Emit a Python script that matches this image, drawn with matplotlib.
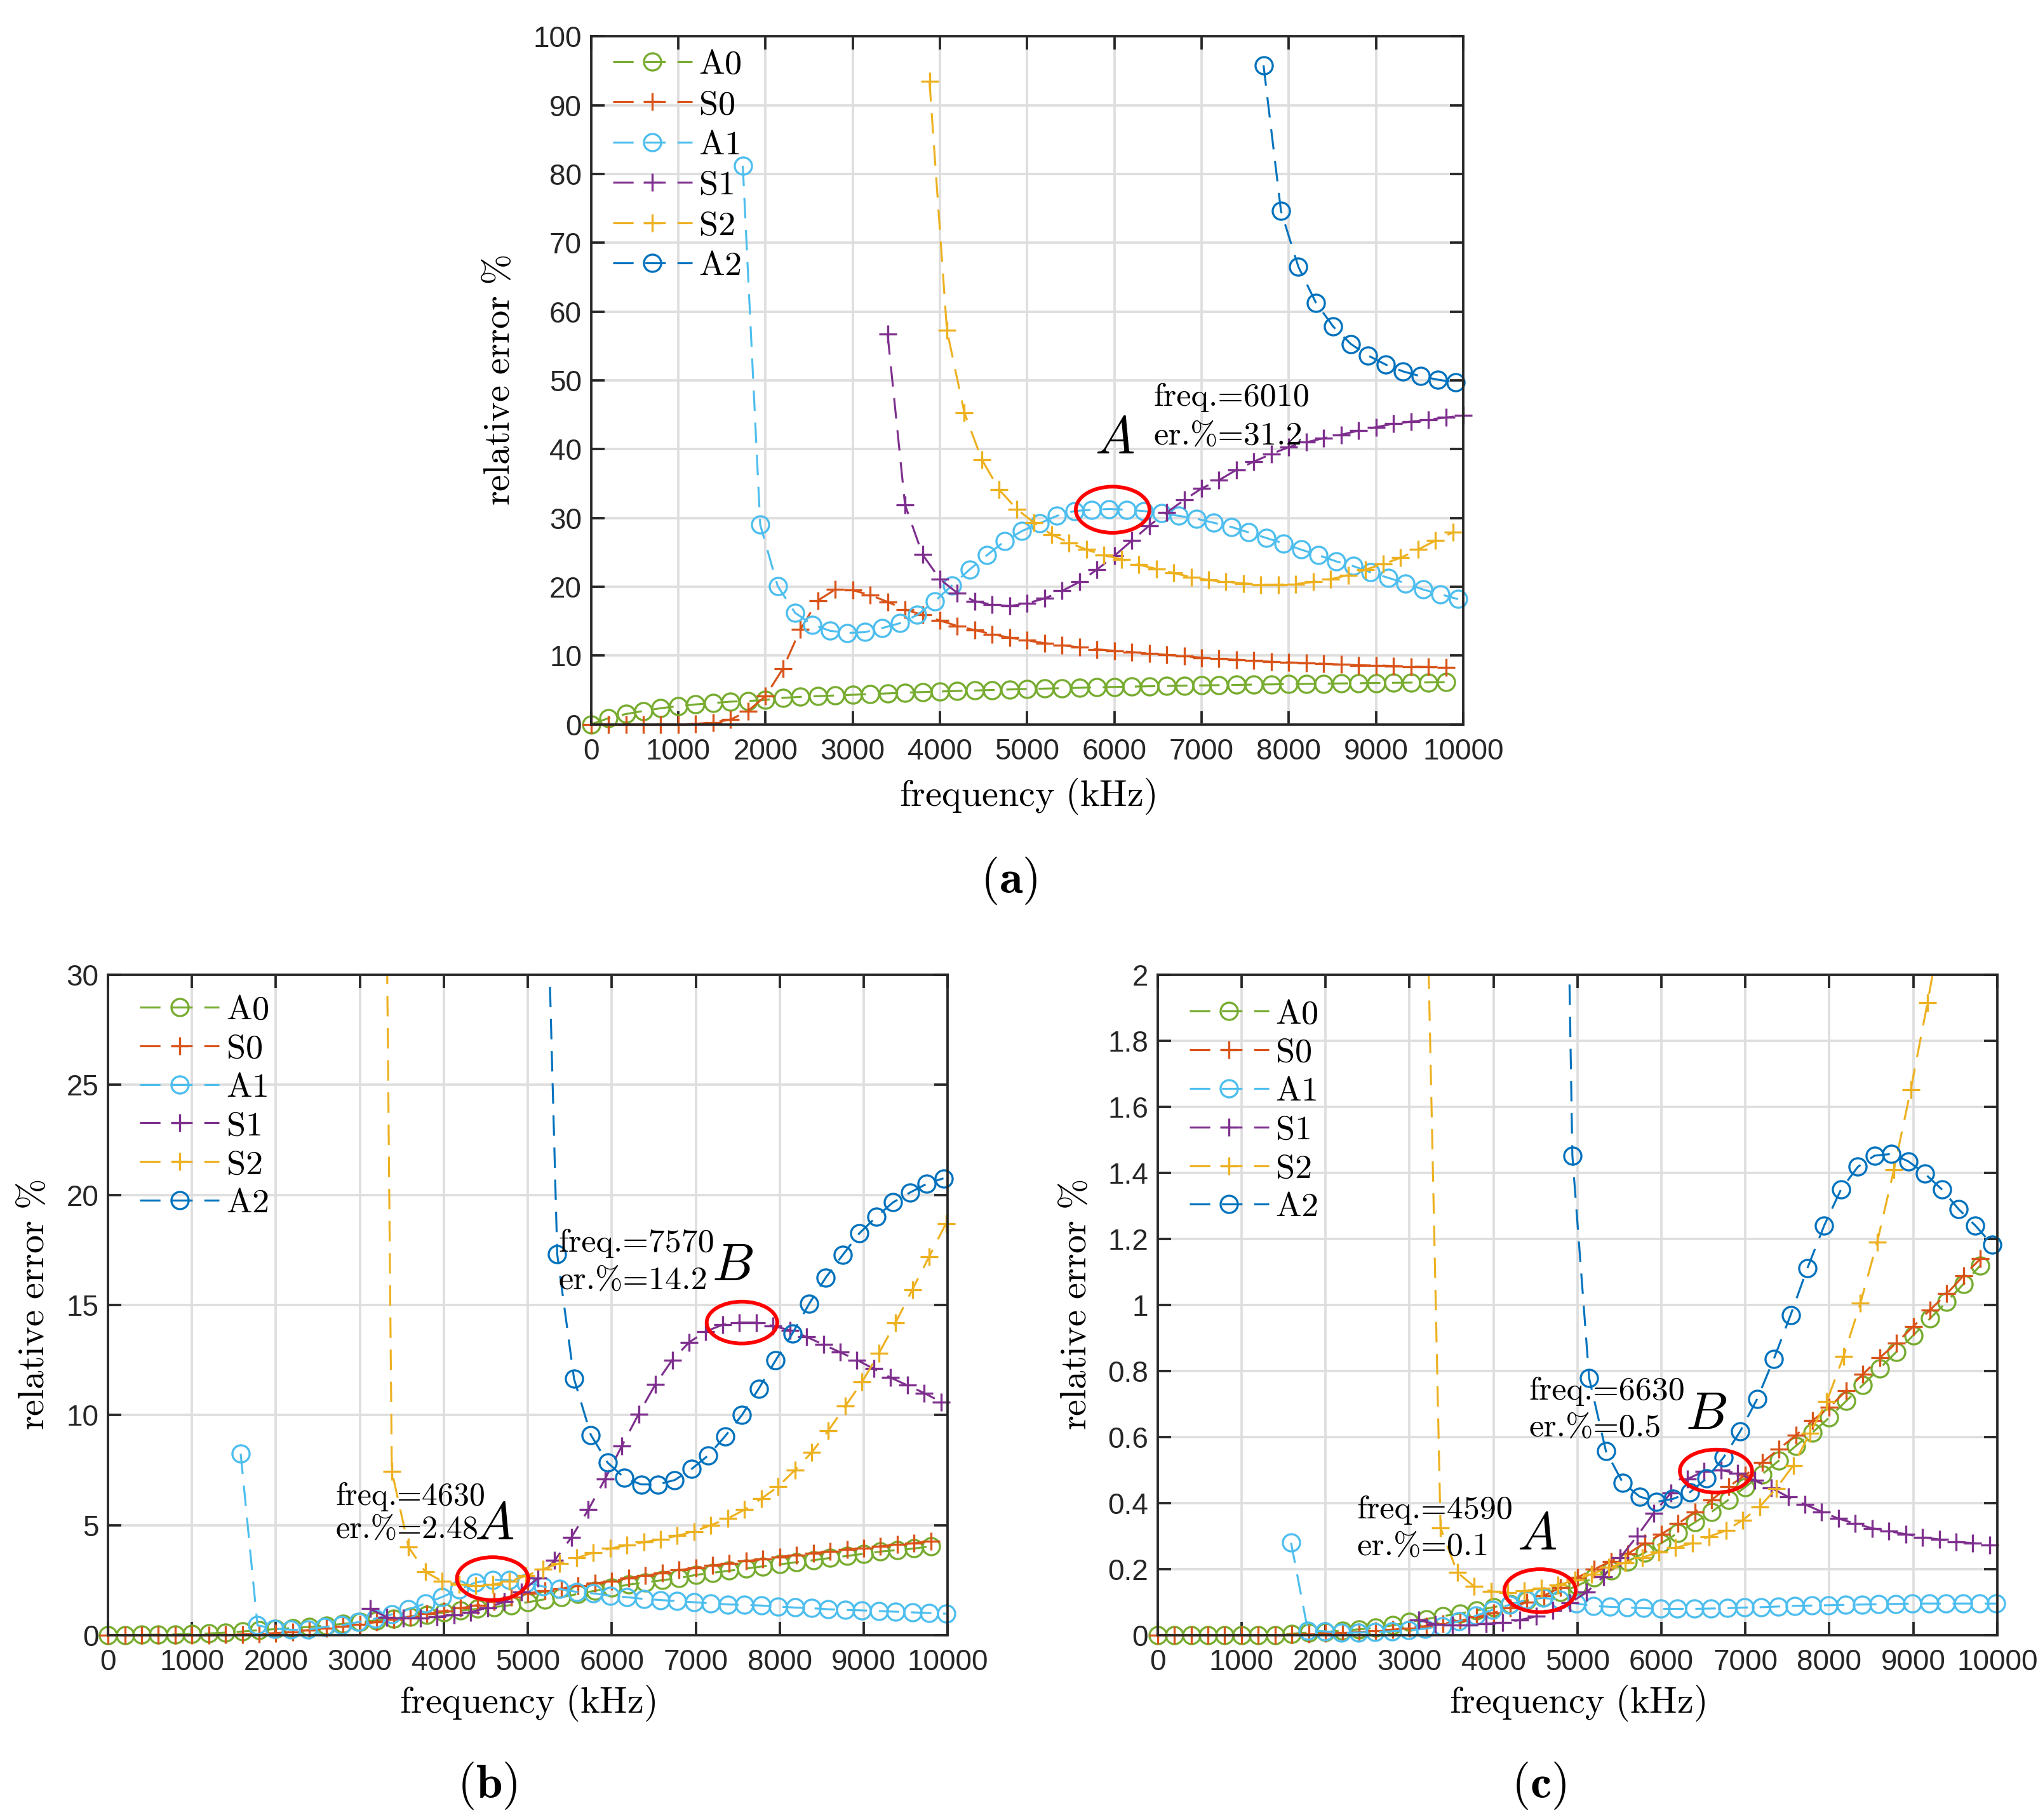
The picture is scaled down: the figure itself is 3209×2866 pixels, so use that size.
import numpy as np
import matplotlib
matplotlib.use("Agg")
import matplotlib.pyplot as plt
from matplotlib.lines import Line2D
from matplotlib.patches import Ellipse
from matplotlib.ticker import FuncFormatter

plt.rcParams["mathtext.fontset"] = "cm"
plt.rcParams["font.family"] = ["Liberation Sans Narrow", "Liberation Sans", "DejaVu Sans"]

STEP = 200  # kHz between computed frequencies

MODES = ["A0", "S0", "A1", "S1", "S2", "A2"]

# ---- panel (a): first frequency of each mode, then the error values (%)
START_A = [0, 0, 1740, 3400, 3880, 7710]
A0_A = [0.0, 0.9, 1.5, 1.95, 2.35, 2.65, 2.9, 3.1, 3.3, 3.4, 3.55, 3.85, 4.0, 4.1, 4.2,
        4.3, 4.4, 4.5, 4.6, 4.7, 4.78, 4.85, 4.92, 5.0, 5.07, 5.14, 5.2, 5.26, 5.32, 5.38,
        5.44, 5.49, 5.54, 5.58, 5.62, 5.66, 5.7, 5.74, 5.78, 5.81, 5.85, 5.88, 5.92, 5.95,
        5.98, 6.01, 6.04, 6.07, 6.1, 6.13]
S0_A = [0, 0, 0, 0, 0, 0, 0.08, 0.27, 0.7, 1.95, 4.1, 8.1, 13.8, 18.0, 19.6, 19.5, 18.8,
        17.8, 16.7, 15.9, 15.1, 14.3, 13.7, 13.1, 12.6, 12.2, 11.8, 11.5, 11.2, 10.9, 10.7,
        10.5, 10.3, 10.1, 9.9, 9.7, 9.55, 9.4, 9.25, 9.1, 9.0, 8.9, 8.8, 8.7, 8.6, 8.55,
        8.5, 8.4, 8.33, 8.25]
A1_A = [81.2, 29.0, 20.1, 16.2, 14.5, 13.6, 13.3, 13.4, 14.0, 14.7, 15.9, 17.9, 20.2,
        22.5, 24.6, 26.6, 28.1, 29.2, 30.3, 31.0, 31.2, 31.3, 31.2, 31.0, 30.7, 30.3,
        29.9, 29.3, 28.7, 27.9, 27.1, 26.3, 25.4, 24.6, 23.7, 23.0, 22.1, 21.3, 20.5,
        19.6, 18.9, 18.2]
S1_A = [56.7, 31.9, 24.7, 21.1, 19.1, 17.9, 17.4, 17.2, 17.6, 18.3, 19.4, 20.7, 22.5,
        24.5, 26.7, 28.9, 30.8, 32.6, 34.3, 35.5, 37.0, 38.2, 39.3, 40.3, 41.0, 41.6,
        42.1, 42.7, 43.2, 43.7, 44.0, 44.3, 44.6, 44.9]
S2_A = [93.5, 57.3, 45.3, 38.5, 34.1, 31.3, 29.3, 27.6, 26.4, 25.4, 24.6, 24.0, 23.2,
        22.6, 22.0, 21.4, 21.0, 20.7, 20.5, 20.3, 20.3, 20.4, 20.7, 21.1, 21.7, 22.5,
        23.3, 24.2, 25.4, 26.7, 27.9]
A2_A = [95.8, 74.6, 66.5, 61.3, 57.8, 55.3, 53.6, 52.3, 51.3, 50.6, 50.1, 49.7]

# ---- panel (b)
START_B = [0, 0, 1580, 3120, 3180, 5150]
A0_B = [0.0, 0.01, 0.02, 0.03, 0.04, 0.06, 0.08, 0.12, 0.17, 0.23, 0.28, 0.33, 0.38,
        0.44, 0.52, 0.6, 0.68, 0.76, 0.85, 0.94, 1.03, 1.12, 1.2, 1.28, 1.37, 1.5, 1.63,
        1.73, 1.88, 2.02, 2.16, 2.3, 2.4, 2.5, 2.6, 2.74, 2.84, 2.93, 3.03, 3.13, 3.22,
        3.32, 3.41, 3.51, 3.6, 3.7, 3.8, 3.87, 3.94, 4.04]
S0_B = [0, 0, 0, 0, 0, 0, 0.01, 0.02, 0.04, 0.06, 0.1, 0.15, 0.24, 0.32, 0.4, 0.5, 0.6,
        0.72, 0.85, 0.97, 1.1, 1.23, 1.37, 1.53, 1.72, 1.9, 2.02, 2.12, 2.26, 2.36, 2.45,
        2.6, 2.7, 2.84, 2.96, 3.06, 3.17, 3.27, 3.37, 3.46, 3.56, 3.65, 3.73, 3.8, 3.9,
        3.96, 4.04, 4.12, 4.18, 4.28]
A1_B = [8.25, 0.45, 0.3, 0.25, 0.25, 0.38, 0.45, 0.6, 0.75, 0.95, 1.18, 1.44, 1.74, 2.07,
        2.4, 2.52, 2.5, 2.38, 2.22, 2.1, 1.97, 1.9, 1.8, 1.73, 1.65, 1.6, 1.55, 1.5, 1.45,
        1.4, 1.38, 1.35, 1.3, 1.26, 1.23, 1.18, 1.15, 1.13, 1.1, 1.07, 1.04, 1.01, 0.98]
S1_B = [1.2, 0.82, 0.77, 0.77, 0.84, 0.93, 1.05, 1.25, 1.52, 1.95, 2.6, 3.4, 4.45, 5.7,
        7.1, 8.6, 10.05, 11.4, 12.5, 13.3, 13.8, 14.1, 14.2, 14.2, 14.05, 13.85, 13.55,
        13.2, 12.85, 12.5, 12.1, 11.7, 11.35, 11.0, 10.6]
S2_B = [90.0, 7.45, 4.0, 2.88, 2.45, 2.3, 2.26, 2.3, 2.45, 2.7, 3.0, 3.27, 3.51, 3.75,
        3.94, 4.09, 4.23, 4.35, 4.52, 4.71, 5.0, 5.3, 5.7, 6.2, 6.75, 7.5, 8.3, 9.3, 10.4,
        11.5, 12.8, 14.2, 15.7, 17.2, 18.7]
A2_B = [45.5, 17.3, 11.65, 9.1, 7.84, 7.15, 6.85, 6.85, 7.05, 7.55, 8.17, 9.04, 10.0,
        11.2, 12.48, 13.7, 15.05, 16.25, 17.27, 18.26, 19.0, 19.66, 20.1, 20.5, 20.75]

# ---- panel (c)
START_C = [0, 0, 1590, 3110, 3170, 4740]
A0_C = [0, 0, 0, 0, 0, 0, 0, 0, 0.005, 0.008, 0.01, 0.014, 0.018, 0.023, 0.03, 0.04,
        0.049, 0.058, 0.066, 0.075, 0.085, 0.095, 0.105, 0.115, 0.13, 0.15, 0.175, 0.197,
        0.224, 0.25, 0.279, 0.31, 0.342, 0.374, 0.41, 0.449, 0.487, 0.529, 0.573, 0.614,
        0.659, 0.709, 0.758, 0.808, 0.858, 0.908, 0.959, 1.01, 1.064, 1.12]
S0_C = [0, 0, 0, 0, 0, 0, 0, 0, 0.002, 0.004, 0.006, 0.008, 0.01, 0.013, 0.017, 0.022,
        0.028, 0.035, 0.044, 0.055, 0.068, 0.083, 0.1, 0.12, 0.145, 0.175, 0.2, 0.224,
        0.247, 0.279, 0.306, 0.338, 0.374, 0.41, 0.45, 0.485, 0.523, 0.564, 0.605, 0.65,
        0.69, 0.74, 0.79, 0.84, 0.885, 0.935, 0.985, 1.034, 1.089, 1.14]
A1_C = [0.28, 0.014, 0.012, 0.007, 0.008, 0.01, 0.012, 0.015, 0.02, 0.028, 0.043, 0.059,
        0.077, 0.092, 0.107, 0.113, 0.108, 0.096, 0.089, 0.086, 0.084, 0.082, 0.08, 0.08,
        0.08, 0.081, 0.082, 0.084, 0.085, 0.087, 0.089, 0.09, 0.091, 0.092, 0.093, 0.094,
        0.095, 0.096, 0.096, 0.096, 0.096, 0.096, 0.096]
S1_C = [0.046, 0.033, 0.03, 0.03, 0.035, 0.038, 0.046, 0.057, 0.075, 0.098, 0.13, 0.178,
        0.235, 0.3, 0.37, 0.43, 0.473, 0.497, 0.5, 0.49, 0.469, 0.446, 0.419, 0.396, 0.374,
        0.353, 0.338, 0.324, 0.315, 0.306, 0.297, 0.29, 0.283, 0.279, 0.274]
S2_C = [2.7, 0.325, 0.19, 0.148, 0.133, 0.129, 0.134, 0.142, 0.152, 0.167, 0.185, 0.205,
        0.22, 0.235, 0.252, 0.265, 0.279, 0.299, 0.317, 0.349, 0.389, 0.445, 0.514, 0.612,
        0.708, 0.845, 1.005, 1.19, 1.41, 1.652, 1.915, 2.2]
A2_C = [4.5, 1.452, 0.778, 0.557, 0.462, 0.42, 0.404, 0.413, 0.433, 0.475, 0.538, 0.618,
        0.715, 0.837, 0.97, 1.112, 1.241, 1.35, 1.418, 1.452, 1.457, 1.435, 1.397, 1.35,
        1.29, 1.24, 1.183]

# annotations: (freq, error) of the marked point
MARK_A = [(6010, 31.2)]
MARK_B = [(4630, 2.48), (7570, 14.2)]
MARK_C = [(4590, 0.1), (6630, 0.5)]

# ---- styles (MATLAB default colour order)
COLORS = {"A0": "#77AC30", "S0": "#D95319", "A1": "#4DBEEE",
          "S1": "#7E2F8E", "S2": "#EDB120", "A2": "#0072BD"}
MARKERS = {"A0": "o", "S0": "+", "A1": "o", "S1": "+", "S2": "+", "A2": "o"}
LW = 0.75
DASH = (10.3, 5.9)
MS = 6.5
MEW = 0.8
FS_TICK = 11
FS_LABEL = 14
FS_LEG = 13
FS_NOTE = 12.5
FS_LETTER = 20
SERIF = "cmr10"


def tex(s):
    return r"$\mathrm{" + s + "}$"


def draw_panel(ax, starts, series, ymax, ystep, leg_anchor, leg_space):
    for i, (name, start, vals) in enumerate(zip(MODES, starts, series)):
        x = start + STEP * np.arange(len(vals))
        y = np.asarray(vals, dtype=float)
        c = COLORS[name]
        z = 2 + 0.1 * i
        ax.plot(x, y, color=c, lw=LW, dashes=DASH, zorder=z)
        keep = y <= ymax
        ax.plot(x[keep], y[keep], ls="none", marker=MARKERS[name], mfc="none",
                mec=c, ms=MS, mew=MEW, clip_on=False, zorder=z)

    ax.set_xlim(0, 10000)
    ax.set_ylim(0, ymax)
    ax.set_xticks(np.arange(0, 10001, 1000))
    ax.set_yticks(np.arange(0, ymax + ystep / 2, ystep))
    ax.yaxis.set_major_formatter(FuncFormatter(lambda v, p: "%g" % round(v, 3)))
    ax.grid(True, color="#dedede", lw=0.9)
    ax.set_axisbelow(True)
    ax.tick_params(direction="in", top=True, right=True, length=5, width=0.9,
                   labelsize=FS_TICK, colors="#262626")
    ax.tick_params(axis="x", pad=5)
    for sp in ax.spines.values():
        sp.set_color("#262626")
        sp.set_linewidth(0.9)

    handles = [Line2D([], [], color=COLORS[m], lw=LW, dashes=DASH, marker=MARKERS[m],
                      mfc="none", mec=COLORS[m], ms=MS, mew=MEW, label=tex(m))
               for m in MODES]
    ax.legend(handles=handles, loc="upper left", bbox_to_anchor=leg_anchor,
              frameon=False, fontsize=FS_LEG, handlelength=2.3, handletextpad=0.2,
              labelspacing=leg_space, borderaxespad=0.0, borderpad=0.0)

    ax.set_xlabel(tex(r"frequency\ (kHz)"), fontsize=FS_LABEL)
    ax.set_ylabel(tex(r"relative\ error\ \%"), fontsize=FS_LABEL)


def note(ax, x, y, dy, mark, size=FS_NOTE):
    f, e = mark
    ax.text(x, y, "freq.=%d" % f, family=SERIF, fontsize=size, va="center", ha="left")
    ax.text(x, y - dy, "er.%%=%g" % e, family=SERIF, fontsize=size, va="center",
            ha="left")


def ring(ax, cx, cy, w, h):
    ax.add_patch(Ellipse((cx, cy), w, h, fill=False, ec="red", lw=1.4, zorder=10))


fig = plt.figure(figsize=(3209 / 300, 2866 / 300), dpi=300)

ax_a = fig.add_axes([0.290, 0.602, 0.428, 0.378])
ax_b = fig.add_axes([0.053, 0.1015, 0.412, 0.363])
ax_c = fig.add_axes([0.568, 0.1015, 0.412, 0.363])

draw_panel(ax_a, START_A, [A0_A, S0_A, A1_A, S1_A, S2_A, A2_A], 100, 10,
           (0.025, 0.982), 0.248)
draw_panel(ax_b, START_B, [A0_B, S0_B, A1_B, S1_B, S2_B, A2_B], 30, 5,
           (0.038, 0.97), 0.2)
draw_panel(ax_c, START_C, [A0_C, S0_C, A1_C, S1_C, S2_C, A2_C], 2, 0.2,
           (0.038, 0.964), 0.2)

for ax, xl, yl in [(ax_a, -0.076, -0.085), (ax_b, -0.073, -0.067), (ax_c, -0.073, -0.076)]:
    ax.xaxis.set_label_coords(0.5, xl)
    ax.yaxis.set_label_coords(yl, 0.5)

# panel (a) annotation
note(ax_a, 6450, 47.5, 5.6, MARK_A[0])
ax_a.text(6000, 41.4, r"$A$", fontsize=FS_LETTER, ha="center", va="center")
ring(ax_a, 5980, 31.2, 845, 6.7)

# panel (b)
note(ax_b, 2710, 6.3, 1.5, MARK_B[0], size=12)
ax_b.text(4600, 5.0, r"$A$", fontsize=FS_LETTER, ha="center", va="center")
ring(ax_b, 4580, 2.57, 850, 1.95)
note(ax_b, 5365, 17.8, 1.7, MARK_B[1])
ax_b.text(7440, 16.75, r"$B$", fontsize=FS_LETTER, ha="center", va="center")
ring(ax_b, 7550, 14.2, 840, 1.9)

# panel (c)
note(ax_c, 2370, 0.379, 0.111, MARK_C[0])
ax_c.text(4520, 0.302, r"$A$", fontsize=FS_LETTER, ha="center", va="center")
ring(ax_c, 4555, 0.135, 850, 0.13)
note(ax_c, 4420, 0.739, 0.111, MARK_C[1])
ax_c.text(6530, 0.667, r"$B$", fontsize=FS_LETTER, ha="center", va="center")
ring(ax_c, 6650, 0.497, 860, 0.13)

fig.text(0.495, 0.516, r"$\mathbf{(a)}$", fontsize=18, ha="center", va="center")
fig.text(0.239, 0.019, r"$\mathbf{(b)}$", fontsize=18, ha="center", va="center")
fig.text(0.755, 0.019, r"$\mathbf{(c)}$", fontsize=18, ha="center", va="center")

fig.savefig("out.png", dpi=300)
